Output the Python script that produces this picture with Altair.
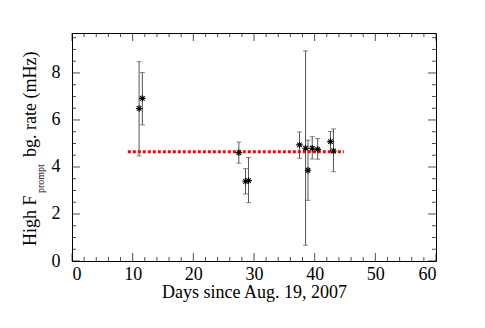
import altair as alt
import pandas as pd

# ---- data ----
days = [11.06, 11.6, 27.5, 28.6, 29.1, 37.5, 38.5, 38.9, 39.6, 40.5, 42.6, 43.1]
rate = [6.49, 6.92, 4.61, 3.39, 3.42, 4.94, 4.80, 3.86, 4.80, 4.75, 5.08, 4.68]
err_lo = [4.47, 5.79, 4.16, 2.85, 2.48, 4.37, 0.67, 2.58, 4.34, 4.33, 4.64, 3.80]
err_hi = [8.48, 8.02, 5.06, 3.93, 4.40, 5.49, 8.94, 5.14, 5.29, 5.21, 5.51, 5.62]

mean_rate = [4.65]
mean_start = [9.2]
mean_end = [44.8]

x_major = [0, 10, 20, 30, 40, 50, 60]
x_minor = [v for v in range(0, 61, 2) if v % 10 != 0]
y_major = [0, 2, 4, 6, 8]
y_minor = [i * 0.5 for i in range(0, 20) if (i * 0.5) % 2 != 0]

x_title = "Days since Aug. 19, 2007"
y_title_parts = ["High F", "prompt", "bg. rate (mHz)"]

# ---- layout / style ----
W, H = 364, 228
XDOM, YDOM = [0, 60], [0, 9.7]
FONT = "Liberation Serif"
MAJ, MIN = 8, 4

df = pd.DataFrame(dict(day=days, rate=rate, lo=err_lo, hi=err_hi))
mean_df = pd.DataFrame(dict(start=mean_start, end=mean_end, rate=mean_rate))
xmaj_df = pd.DataFrame({"v": x_major})
xmin_df = pd.DataFrame({"v": x_minor})
ymaj_df = pd.DataFrame({"v": y_major})
ymin_df = pd.DataFrame({"v": y_minor})

xs = alt.Scale(domain=XDOM, nice=False, zero=False)
ys = alt.Scale(domain=YDOM, nice=False, zero=False)

main_x = alt.Axis(orient="bottom", values=x_major, ticks=False, domain=False, grid=False,
                  labelFont=FONT, labelFontSize=18, labelColor="black",
                  labelBaseline="alphabetic", labelPadding=18,
                  title=x_title, titleFont=FONT, titleFontSize=18, titleColor="black",
                  titleFontWeight="normal", titleBaseline="alphabetic", titleY=36.6)
main_y = alt.Axis(orient="left", values=y_major, ticks=False, domain=False, grid=False,
                  labelFont=FONT, labelFontSize=18, labelColor="black", labelPadding=12,
                  title="")

GREY = "#555555"

# error bars
bars = alt.Chart(df).mark_rule(color=GREY, strokeWidth=1).encode(
    x=alt.X("day:Q", scale=xs, axis=main_x),
    y=alt.Y("lo:Q", scale=ys, axis=main_y),
    y2="hi:Q",
)
caps_lo = alt.Chart(df).mark_tick(color=GREY, orient="horizontal", size=5, thickness=1).encode(
    x=alt.X("day:Q", scale=xs, axis=None),
    y=alt.Y("lo:Q", scale=ys, axis=None),
)
caps_hi = alt.Chart(df).mark_tick(color=GREY, orient="horizontal", size=5, thickness=1).encode(
    x=alt.X("day:Q", scale=xs, axis=None),
    y=alt.Y("hi:Q", scale=ys, axis=None),
)
mean_line = alt.Chart(mean_df).mark_rule(color="#ff0000", strokeWidth=3, strokeDash=[3, 2]).encode(
    x=alt.X("start:Q", scale=xs, axis=None),
    x2="end:Q",
    y=alt.Y("rate:Q", scale=ys, axis=None),
)
star = "M-1,0L1,0M0,-1L0,1M-0.7,-0.7L0.7,0.7M-0.7,0.7L0.7,-0.7"
points = alt.Chart(df).mark_point(shape=star, size=42, stroke="black", strokeWidth=1.1,
                                  filled=False, opacity=1).encode(
    x=alt.X("day:Q", scale=xs, axis=None),
    y=alt.Y("rate:Q", scale=ys, axis=None),
)


# inward axis ticks on all four sides (positions from the shared scales)
def xticks(data, length, at, sign):
    return alt.Chart(data).mark_tick(color="black", orient="vertical", size=length,
                                     thickness=1, yOffset=sign * length / 2).encode(
        x=alt.X("v:Q", scale=xs, axis=None),
        y=alt.YDatum(at, scale=ys, axis=None),
    )


def yticks(data, length, at, sign):
    return alt.Chart(data).mark_tick(color="black", orient="horizontal", size=length,
                                     thickness=1, xOffset=sign * length / 2).encode(
        x=alt.XDatum(at, scale=xs, axis=None),
        y=alt.Y("v:Q", scale=ys, axis=None),
    )


tick_layers = [
    xticks(xmaj_df, MAJ, YDOM[0], -1), xticks(xmin_df, MIN, YDOM[0], -1),
    xticks(xmaj_df, MAJ, YDOM[1], 1), xticks(xmin_df, MIN, YDOM[1], 1),
    yticks(ymaj_df, MAJ, XDOM[0], 1), yticks(ymin_df, MIN, XDOM[0], 1),
    yticks(ymaj_df, MAJ, XDOM[1], -1), yticks(ymin_df, MIN, XDOM[1], -1),
]

# y-axis title with subscript, built from text pieces
t1 = alt.Chart(pd.DataFrame({"t": [y_title_parts[0]]})).mark_text(
    font=FONT, fontSize=18, angle=270, align="left", baseline="alphabetic", color="black"
).encode(text="t:N", x=alt.value(-36), y=alt.value(213))
t2 = alt.Chart(pd.DataFrame({"t": [y_title_parts[1]]})).mark_text(
    font=FONT, fontSize=10, angle=270, align="left", baseline="alphabetic", color="black"
).encode(text="t:N", x=alt.value(-28), y=alt.value(160))
t3 = alt.Chart(pd.DataFrame({"t": [y_title_parts[2]]})).mark_text(
    font=FONT, fontSize=18, angle=270, align="left", baseline="alphabetic", color="black"
).encode(text="t:N", x=alt.value(-36), y=alt.value(124))

chart = alt.layer(bars, caps_lo, caps_hi, mean_line, points, *tick_layers, t1, t2, t3).resolve_axis(
    x="independent", y="independent"
).properties(
    width=W, height=H,
    autosize=alt.AutoSizeParams(type="none"),
    padding={"left": 64, "top": 25, "right": 40, "bottom": 50},
    background="white",
).configure_view(stroke="black", strokeWidth=1).configure_axis(
    labelFont=FONT, titleFont=FONT
).configure_text(font=FONT)

chart.save("out.html", embed_options={"renderer": "svg", "actions": False})
